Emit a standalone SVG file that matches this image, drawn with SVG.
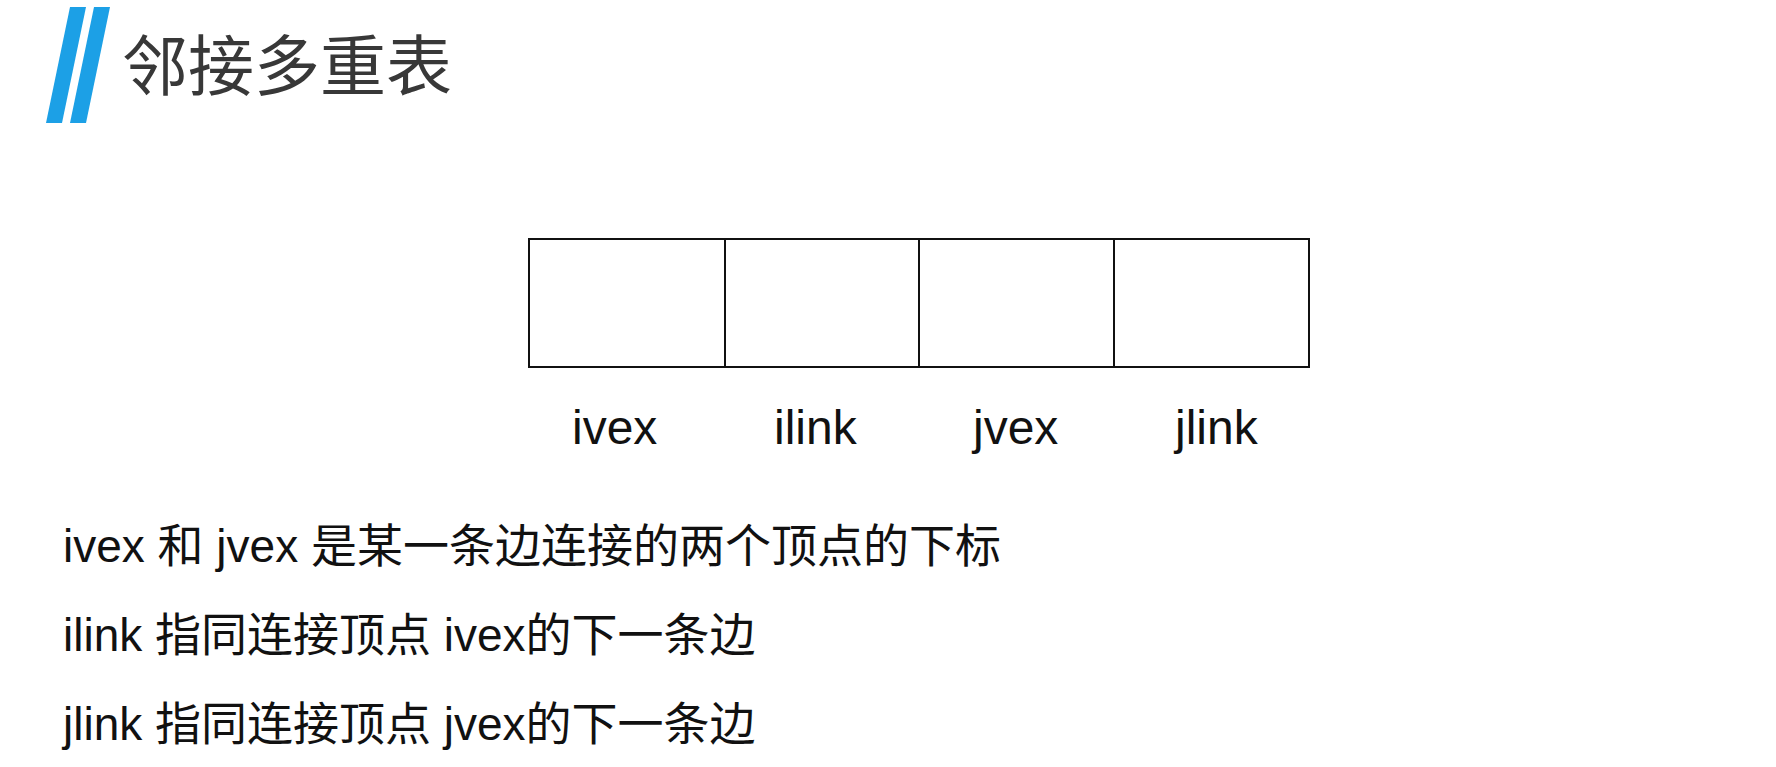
<svg xmlns="http://www.w3.org/2000/svg" width="1776" height="767" viewBox="0 0 1776 767">
<style>
.title{font-family:"Noto Sans CJK SC","Liberation Sans",sans-serif;font-size:66px;fill:#383838}
.lbl{font-family:"Liberation Sans","Noto Sans CJK SC",sans-serif;font-size:48px;fill:#111}
.body{font-family:"Liberation Sans","Noto Sans CJK SC",sans-serif;font-size:46px;fill:#111}
.cell{fill:#fff;stroke:#111;stroke-width:2}
.bar{fill:#1CA0E6}
</style>
<rect width="1776" height="767" fill="#fff"/>
<g id="header">
<polygon class="bar" points="70,7 86,7 62,123 46,123"/>
<polygon class="bar" points="94,7 110,7 86,123 70,123"/>
<text class="title" x="122" y="90">邻接多重表</text>
</g>
<g id="node-ivex">
<rect class="cell" x="529" y="239" width="196" height="128"/>
<text class="lbl" x="572" y="444">ivex</text>
</g>
<g id="node-ilink">
<rect class="cell" x="725" y="239" width="194" height="128"/>
<text class="lbl" x="774" y="444">ilink</text>
</g>
<g id="node-jvex">
<rect class="cell" x="919" y="239" width="195" height="128"/>
<text class="lbl" x="973" y="444">jvex</text>
</g>
<g id="node-jlink">
<rect class="cell" x="1114" y="239" width="195" height="128"/>
<text class="lbl" x="1175" y="444">jlink</text>
</g>
<g id="connectors"></g>
<g id="notes">
<text class="body" x="63" y="562">ivex 和 jvex 是某一条边连接的两个顶点的下标</text>
<text class="body" x="63" y="651">ilink 指同连接顶点 ivex的下一条边</text>
<text class="body" x="63" y="740">jlink 指同连接顶点 jvex的下一条边</text>
</g>
</svg>
